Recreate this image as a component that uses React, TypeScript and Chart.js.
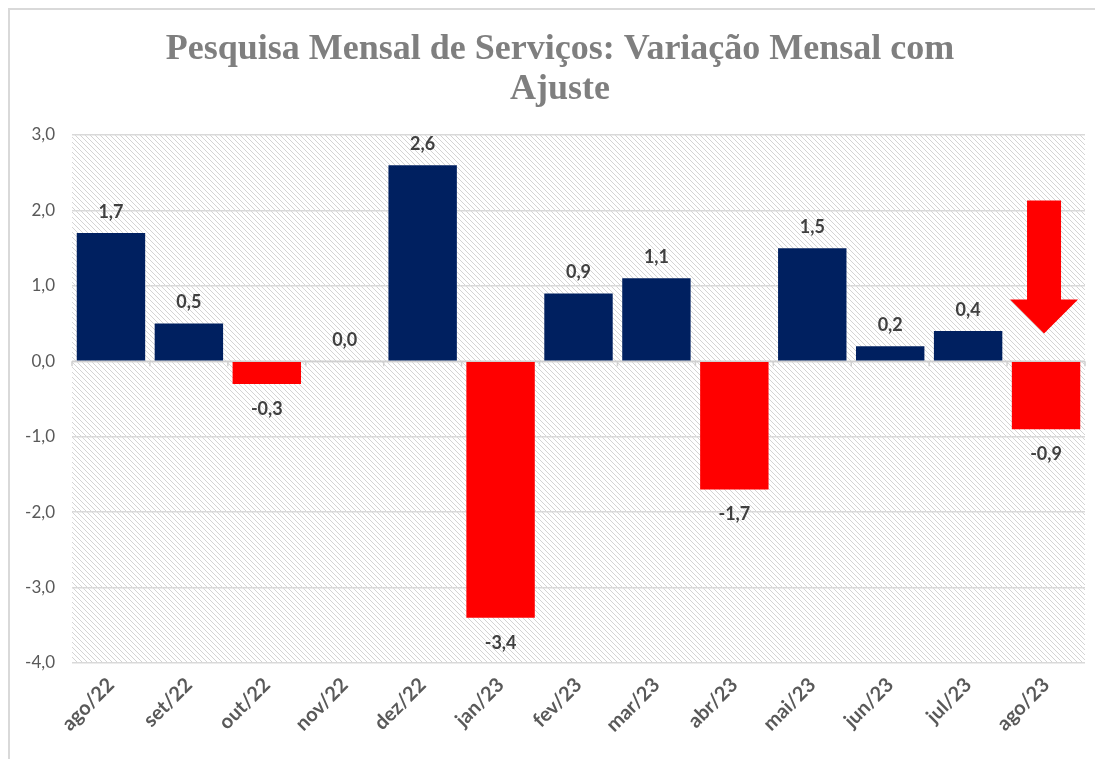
import React, { useEffect, useRef } from "react";
import { Chart, registerables } from "chart.js";

Chart.register(...registerables);

const categories = ["ago/22", "set/22", "out/22", "nov/22", "dez/22", "jan/23", "fev/23", "mar/23", "abr/23", "mai/23", "jun/23", "jul/23", "ago/23"];
const values = [1.7, 0.5, -0.3, 0.0, 2.6, -3.4, 0.9, 1.1, -1.7, 1.5, 0.2, 0.4, -0.9];
const titleLines = ["Pesquisa Mensal de Serviços: Variação Mensal com", "Ajuste"];
// arrow annotation (category index, shaft top, head base, tip in data units)
const arrowIndex = 12;
const arrowValues = [2.13, 0.82, 0.37];

const NAVY = "#002060";
const RED = "#ff0000";
const fmt = (v: number) => v.toFixed(1).replace(".", ",");

function makePattern(ctx: CanvasRenderingContext2D) {
  const s = 5;
  const c = document.createElement("canvas");
  c.width = s;
  c.height = s;
  const g = c.getContext("2d")!;
  g.fillStyle = "#ffffff";
  g.fillRect(0, 0, s, s);
  g.strokeStyle = "#d4d4d4";
  g.lineWidth = 1;
  for (let k = -1; k <= 1; k++) {
    g.beginPath();
    g.moveTo(-1, -1 + k * s);
    g.lineTo(s + 1, s + 1 + k * s);
    g.stroke();
  }
  return ctx.createPattern(c, "repeat")!;
}

const titlePlugin = {
  id: "customTitle",
  afterDraw(chart: any) {
    const { ctx } = chart;
    ctx.save();
    ctx.font = "bold 36px 'Liberation Serif'";
    ctx.fillStyle = "#7f7f7f";
    ctx.textAlign = "center";
    ctx.textBaseline = "middle";
    titleLines.forEach((t, i) => {
      ctx.fillText(t, 550, 40 + i * 40);
    });
    ctx.restore();
  },
};

const bgPlugin = {
  id: "hatchBg",
  beforeDraw(chart: any) {
    const { ctx, chartArea: a } = chart;
    ctx.save();
    ctx.fillStyle = makePattern(ctx);
    ctx.fillRect(a.left, a.top, a.right - a.left, a.bottom - a.top);
    ctx.restore();
  },
  beforeDatasetsDraw(chart: any) {
    const { ctx, scales } = chart;
    const x = scales.x;
    const y0 = scales.y.getPixelForValue(0);
    ctx.save();
    ctx.strokeStyle = "#d0d0d0";
    ctx.lineWidth = 1.5;
    ctx.beginPath();
    ctx.moveTo(chart.chartArea.left, y0);
    ctx.lineTo(chart.chartArea.right, y0);
    const step = (x.right - x.left) / categories.length;
    for (let i = 0; i <= categories.length; i++) {
      const px = x.left + i * step;
      ctx.moveTo(px, y0);
      ctx.lineTo(px, y0 + 5);
    }
    ctx.stroke();
    ctx.restore();
  },
};

const labelPlugin = {
  id: "barLabels",
  afterDatasetsDraw(chart: any) {
    const { ctx } = chart;
    const meta = chart.getDatasetMeta(0);
    ctx.save();
    ctx.font = "bold 18px Lato";
    ctx.fillStyle = "#404040";
    ctx.textAlign = "center";
    ctx.textBaseline = "middle";
    meta.data.forEach((bar: any, i: number) => {
      const v = values[i];
      const yy = v >= 0 ? bar.y - 21 : bar.y + 25;
      ctx.fillText(fmt(v), bar.x, yy);
    });
    // arrow
    const xs = chart.scales.x;
    const ys = chart.scales.y;
    const cx = xs.getPixelForValue(arrowIndex) - 2;
    const yTop = ys.getPixelForValue(arrowValues[0]);
    const yBase = ys.getPixelForValue(arrowValues[1]);
    const yTip = ys.getPixelForValue(arrowValues[2]);
    const sw = 17;
    const hw = 34;
    ctx.fillStyle = RED;
    ctx.beginPath();
    ctx.moveTo(cx - sw, yTop);
    ctx.lineTo(cx + sw, yTop);
    ctx.lineTo(cx + sw, yBase);
    ctx.lineTo(cx + hw, yBase);
    ctx.lineTo(cx, yTip);
    ctx.lineTo(cx - hw, yBase);
    ctx.lineTo(cx - sw, yBase);
    ctx.closePath();
    ctx.fill();
    ctx.restore();
  },
};

export default function App() {
  const ref = useRef<HTMLCanvasElement>(null);
  useEffect(() => {
    const chart = new Chart(ref.current!, {
      type: "bar",
      data: {
        labels: categories,
        datasets: [
          {
            data: values,
            backgroundColor: values.map((v) => (v >= 0 ? NAVY : RED)),
            barPercentage: 0.878,
            categoryPercentage: 1,
          },
        ],
      },
      options: {
        animation: false,
        responsive: false,
        layout: { padding: { left: 0, right: 10, top: 125, bottom: 0 } },
        plugins: {
          legend: { display: false },
          tooltip: { enabled: false },
          title: { display: false },
        },
        scales: {
          x: {
            grid: { display: false },
            border: { display: false },
            ticks: {
              color: "#595959",
              font: { family: "Lato", size: 20, weight: "bold" },
              maxRotation: 45,
              minRotation: 45,
              padding: 2,
            },
            afterFit(s: any) {
              s.height = 96;
            },
          },
          y: {
            min: -4,
            max: 3,
            ticks: {
              stepSize: 1,
              color: "#595959",
              font: { family: "Lato", size: 17 },
              callback: (v: any) => fmt(Number(v)),
              padding: 17,
            },
            grid: { color: "#d9d9d9", lineWidth: 1.5, drawTicks: false },
            border: { display: false },
            afterFit(s: any) {
              s.width = 62;
            },
          },
        },
      },
      plugins: [bgPlugin, labelPlugin, titlePlugin],
    });
    return () => chart.destroy();
  }, []);
  return (
    <div
      style={{
        position: "fixed",
        left: 8,
        top: 8,
        width: 1087,
        height: 751,
        borderTop: "2px solid #d9d9d9",
        borderLeft: "2px solid #d9d9d9",
        background: "#fff",
        overflow: "hidden",
      }}
    >
      <canvas ref={ref} width={1085} height={749} style={{ display: "block" }} />
    </div>
  );
}
